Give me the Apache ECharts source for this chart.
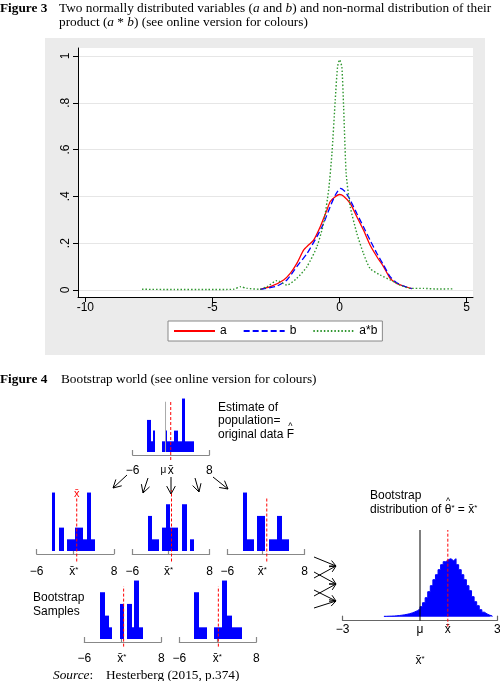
<!DOCTYPE html>
<html>
<head>
<meta charset="utf-8">
<script src="https://cdn.jsdelivr.net/npm/echarts@6/dist/echarts.min.js"></script>
<style>
  html, body { margin: 0; padding: 0; background: #fff; }
  #chart { width: 500px; height: 681px; }
</style>
</head>
<body>
<div id="chart"></div>
<script>
// ---- Figure 3: kernel densities, [x, density]
const densityA = [[-3.12,0.003],[-2.72,0.014],[-2.2,0.043],[-1.94,0.071],[-1.68,0.114],[-1.41,0.171],[-1.22,0.192],
  [-1.02,0.213],[-0.76,0.27],[-0.5,0.341],[-0.37,0.377],[-0.17,0.398],[0,0.408],[0.16,0.401],[0.42,0.37],[0.68,0.313],
  [0.94,0.256],[1.2,0.192],[1.47,0.142],[1.73,0.1],[1.99,0.05],[2.25,0.028],[2.51,0.017],[2.84,0.006]];
const densityB = [[-3.12,0.003],[-2.46,0.017],[-2.07,0.043],[-1.68,0.1],[-1.28,0.156],[-0.89,0.228],[-0.63,0.284],
  [-0.37,0.356],[-0.17,0.405],[0.03,0.434],[0.22,0.42],[0.42,0.384],[0.68,0.327],[0.94,0.27],[1.2,0.213],[1.47,0.156],
  [1.73,0.107],[1.99,0.057],[2.25,0.031],[2.58,0.014],[2.84,0.006]];
const densityAB = [[-7.77,0.003],[-6.5,0.002],[-5.2,0.002],[-4.16,0.003],[-3.9,0.014],[-3.64,0.007],[-3.12,0.003],
  [-2.86,0.014],[-2.46,0.04],[-2.07,0.021],[-1.68,0.05],[-1.28,0.1],[-0.89,0.185],[-0.63,0.284],[-0.43,0.427],
  [-0.3,0.583],[-0.17,0.811],[-0.08,0.953],[0,0.984],[0.09,0.953],[0.16,0.782],[0.26,0.498],[0.42,0.356],[0.68,0.242],
  [0.94,0.156],[1.2,0.092],[1.6,0.064],[1.99,0.043],[2.38,0.021],[2.78,0.007],[3.3,0.007],[3.82,0.004],[4.48,0.005]];
const fig3Names = ['a', 'b', 'a*b'];
const fig3XTicks = [-10, -5, 0, 5];
const fig3YTicks = [0, 0.2, 0.4, 0.6, 0.8, 1];

// ---- Figure 4: histograms, [binStart, binEnd, count]
const originalBins = [[-3.32,-2.71,3],[-2.71,-2.22,1],[-2.22,-1.91,2],[-0.57,-0.09,1],[-0.09,0.34,2],
  [0.34,1.56,1],[1.56,2.35,2],[2.35,2.96,1],[2.96,3.57,5],[3.57,5.22,1]];
const bootBins1 = [[-3.21,-2.61,5],[-1.88,-1.09,2],[-0.55,0.85,1],[0.85,2.36,2],[2.36,3.09,1],[3.09,3.88,5],[3.88,4.48,1]];
const bootBins2 = [[-3.21,-2.48,3],[-2.48,-1.09,1],[-0.55,0.18,2],[0.18,0.85,4],[0.85,2.36,2],[3.09,3.82,4],[4.48,5.09,1]];
const bootBins3 = [[-3.21,-2.48,5],[-2.48,-1.09,1],[-0.67,0.85,3],[1.58,3.09,1],[3.09,3.88,3],[3.88,5.21,1]];
const bootBins4 = [[-3.1,-2.2,4],[-2.2,-1.6,2],[-1.6,-1.0,1],[0.42,1.15,3],[1.76,2.67,3],[2.67,3.1,1],[3.1,3.9,5],[3.9,4.67,1]];
const bootBins5 = [[-3.27,-2.36,4],[-2.36,-1.03,1],[0.36,1.7,1],[1.7,2.61,5],[2.61,3.52,2],[3.52,5.33,1]];
const bootTickAt = [0.7, 0.55, 0.35, 0.8, 0.9];
const bootMeans = [1.25, 1.1, 1.15, 1.15, 1.1];
const popMu = 0;
const sampleMean = 0.95;
const topLabelAt = [-6, -0.4, 0.95, 8];

// bootstrap distribution of the mean, bins of 0.1 from -1.4
const distStart = -1.4;
const distWidth = 0.1;
const distCounts = [0.4,0.5,0.6,0.7,0.9,1.2,1.5,1.9,2.4,3.0,3.8,4.8,6.0,7.8,10,14,19,25,31,37,42,47,52,55,57,58,
  56,58,52,47,42,37,31,26,20,15,11,7,4.5,2.8,1.6,0.8];
const distMu = 0;
const distXbar = 1.08;

const SANS = "'Liberation Sans', Arial, sans-serif";
const SERIF = "'Liberation Serif', 'Times New Roman', serif";
const CAP = '13.3px ' + SERIF;

// step outline of the bootstrap distribution: bin starts, then close at the last bin end
const distSteps = distCounts.map((c, i) => [distStart + i * distWidth, c]);
distSteps.push([distStart + distCounts.length * distWidth, 0]);

// snap bin edges to whole pixels so touching bins show no seams
function renderBin(params, api) {
  const top = api.coord([api.value(0), api.value(2)]);
  const bottom = api.coord([api.value(1), 0]);
  const x0 = Math.round(top[0]);
  const x1 = Math.max(Math.round(bottom[0]), x0 + 1);
  return {
    type: 'rect',
    shape: { x: x0, y: top[1], width: x1 - x0, height: bottom[1] - top[1] },
    style: { fill: '#0000ff' }
  };
}

const xbarRich = {
  o: { fontSize: 12, fontFamily: SANS, color: '#000' },
  m: { fontSize: 10, fontFamily: SANS, color: '#000', lineHeight: 10, verticalAlign: 'top' },
  s: { fontSize: 8, lineHeight: 8, verticalAlign: 'top', fontFamily: SANS, color: '#000' }
};

function smallX(gi, ticks, labels, formatter, margin) {
  return {
    gridIndex: gi, type: 'value', min: -6, max: 8, offset: 3,
    axisLine: { show: true, onZero: false, lineStyle: { color: '#888', width: 1.2 } },
    axisTick: { show: true, inside: true, length: 5, customValues: ticks, lineStyle: { color: '#888', width: 1.2 } },
    axisLabel: { show: true, customValues: labels, formatter, margin, color: '#000', fontSize: 12, fontFamily: SANS, rich: xbarRich },
    splitLine: { show: false }
  };
}
function smallY(gi, max) {
  return { gridIndex: gi, type: 'value', min: 0, max, show: false };
}
function bins(gi, data) {
  return { type: 'custom', xAxisIndex: gi, yAxisIndex: gi, renderItem: renderBin, encode: { x: [0, 1], y: 2 }, data, silent: true };
}
function vline(gi, x, y0, y1, color, type) {
  return {
    type: 'line', xAxisIndex: gi, yAxisIndex: gi, data: [[x, y0], [x, y1]], symbol: 'none', clip: false, silent: true,
    lineStyle: { color, width: 1, type }, z: 5
  };
}

const bootFormatter = v => v === -6 ? '−6' : v === 8 ? '8' : '{o|x\u0304}{s|*}';
const topFormatter = v => v === -6 ? '−6' : v === 8 ? '8' : (v < 0.5 ? '{m|μ}' : 'x\u0304');

const measureCtx = document.createElement('canvas').getContext('2d');
function textWidth(s, font) { measureCtx.font = font; return measureCtx.measureText(s).width; }

function txt(x, y, text, font, extra) {
  return { type: 'text', x, y, style: Object.assign({ text, font, fill: '#000', verticalAlign: 'middle' }, extra || {}) };
}
// a hat drawn above the glyph that follows `prefix` in a text starting at x
function hat(x, y, prefix, glyph, font) {
  const cx = x + textWidth(prefix, font) + textWidth(glyph, font) / 2;
  return txt(cx, y, '^', '9px ' + SANS, { align: 'center' });
}
function arrow(a, h) {
  const [x1, y1, x2, y2] = a;
  const ang = Math.atan2(y2 - y1, x2 - x1);
  const sp = 0.5;
  const p1 = [x2 - h * Math.cos(ang - sp), y2 - h * Math.sin(ang - sp)];
  const p2 = [x2 - h * Math.cos(ang + sp), y2 - h * Math.sin(ang + sp)];
  return [
    { type: 'line', shape: { x1, y1, x2, y2 }, style: { stroke: '#000', lineWidth: 1 } },
    { type: 'polyline', shape: { points: [p1, [x2, y2], p2] }, style: { stroke: '#000', fill: null, lineWidth: 1 } }
  ];
}

const topArrows = [[127,475,113,488],[148,478,143,493],[171,477,171,494],[195,478,199,492],[213,477,228,489]];
const sideArrows = [[314,557,336,566],[314,578,336,566],[314,572,336,584],[314,596,336,584],[314,590,336,601],[314,608,336,601]];

const serifRich = { i: { font: 'italic ' + CAP, fill: '#000' } };
const F12 = '12px ' + SANS;

const graphic = [
  { type: 'rect', z: -100, shape: { x: 45, y: 38, width: 440, height: 317 }, style: { fill: '#ebebeb' } },
  { type: 'rect', z: -90, shape: { x: 78, y: 48, width: 395, height: 249 }, style: { fill: '#fff' } },
  txt(0, 9, 'Figure 3', 'bold ' + CAP),
  txt(59, 9, 'Two normally distributed variables ({i|a} and {i|b}) and non-normal distribution of their', CAP, { rich: serifRich }),
  txt(59, 23, 'product ({i|a} * {i|b}) (see online version for colours)', CAP, { rich: serifRich }),
  txt(0, 380, 'Figure 4', 'bold ' + CAP),
  txt(61, 380, 'Bootstrap world (see online version for colours)', CAP),
  txt(218, 408, 'Estimate of', F12),
  txt(218, 421, 'population=', F12),
  txt(218, 435, 'original data F', F12),
  hat(218, 427, 'original data ', 'F', F12),
  txt(33, 598, 'Bootstrap', F12),
  txt(33, 612, 'Samples', F12),
  txt(370, 496, 'Bootstrap', F12),
  txt(370, 510, 'distribution of θ{s|*} = x\u0304{s|*}', F12, {
    rich: { s: { font: '8px ' + SANS, lineHeight: 8, verticalAlign: 'top' } }
  }),
  hat(370, 502, 'distribution of ', 'θ', F12),
  txt(76.7, 494, 'x\u0304', '11px ' + SANS, { fill: '#ff0000', align: 'center' }),
  txt(53, 676, '{i|Source}:', CAP, { rich: serifRich }),
  txt(106, 676, 'Hesterberg (2015, p.374)', CAP)
];
topArrows.forEach(a => graphic.push(...arrow(a, 9)));
sideArrows.forEach(a => graphic.push(...arrow(a, 7)));

const grid = [
  { left: 78, top: 48, width: 395, height: 249 },
  { left: 132.7, top: 396.4, width: 76.6, height: 55.6 },
  { left: 36.7, top: 490.2, width: 77.3, height: 60.8 },
  { left: 132.3, top: 490.2, width: 77.3, height: 60.8 },
  { left: 227.3, top: 490.2, width: 77.3, height: 60.8 },
  { left: 84.3, top: 578.2, width: 77, height: 60.8 },
  { left: 179.3, top: 578.2, width: 77, height: 60.8 },
  { left: 342.7, top: 530, width: 154.6, height: 86.7 }
].map(g => Object.assign({ outerBoundsMode: 'none', containLabel: false, show: false }, g));

const xAxis = [
  {
    gridIndex: 0, type: 'value', min: -10.29, max: 5.25,
    axisLine: { show: true, onZero: false, lineStyle: { color: '#000', width: 1 } },
    axisTick: { show: true, length: 5, customValues: fig3XTicks, lineStyle: { color: '#000' } },
    axisLabel: { customValues: fig3XTicks, color: '#000', fontSize: 12, fontFamily: SANS, margin: 5 },
    splitLine: { show: false }
  },
  smallX(1, [-6, 8], topLabelAt, topFormatter, 10),
  smallX(2, [-6, bootTickAt[0], 8], [-6, bootTickAt[0], 8], bootFormatter, 12),
  smallX(3, [-6, bootTickAt[1], 8], [-6, bootTickAt[1], 8], bootFormatter, 12),
  smallX(4, [-6, bootTickAt[2], 8], [-6, bootTickAt[2], 8], bootFormatter, 12),
  smallX(5, [-6, bootTickAt[3], 8], [-6, bootTickAt[3], 8], bootFormatter, 11),
  smallX(6, [-6, bootTickAt[4], 8], [-6, bootTickAt[4], 8], bootFormatter, 11),
  {
    gridIndex: 7, type: 'value', min: -3, max: 3, offset: 4,
    axisLine: { show: true, onZero: false, lineStyle: { color: '#666', width: 1.2 } },
    axisTick: { show: true, inside: true, length: 5, customValues: [-3, 3], lineStyle: { color: '#666', width: 1.2 } },
    axisLabel: {
      customValues: [-3, distMu, distXbar, 3], margin: 3, color: '#000', fontSize: 12, fontFamily: SANS,
      formatter: v => v === -3 ? '−3' : v === 3 ? '3' : v === distMu ? 'μ' : 'x\u0304'
    },
    name: '{o|x\u0304}{s|*}', nameLocation: 'middle', nameGap: 34,
    nameTextStyle: { rich: xbarRich },
    splitLine: { show: false }
  }
];

const yAxis = [
  {
    gridIndex: 0, type: 'value', min: -0.03, max: 1.034,
    axisLine: { show: true, onZero: false, lineStyle: { color: '#000', width: 1 } },
    axisTick: { show: true, length: 5, customValues: fig3YTicks, lineStyle: { color: '#000' } },
    axisLabel: {
      customValues: fig3YTicks, rotate: 90, margin: 6, color: '#000', fontSize: 12, fontFamily: SANS,
      formatter: v => v === 0 ? '0' : v === 1 ? '1' : String(v).replace(/^0/, '')
    },
    splitLine: { show: true, lineStyle: { color: '#e6e6e6', width: 1 } }
  },
  smallY(1, 5.2), smallY(2, 5.2), smallY(3, 5.2), smallY(4, 5.2), smallY(5, 5.2), smallY(6, 5.2),
  smallY(7, 86.7)
];

const series = [
  { name: 'a', type: 'line', data: densityA, smooth: 0.2, symbol: 'none', color: '#ff0000', lineStyle: { width: 1.3, type: 'solid' } },
  { name: 'b', type: 'line', data: densityB, smooth: 0.2, symbol: 'none', color: '#0000ff', lineStyle: { width: 1.3, type: [6, 3] } },
  { name: 'a*b', type: 'line', data: densityAB, smooth: 0.2, symbol: 'none', color: '#2e962e', lineStyle: { width: 1.4, type: [1.5, 2] } },

  bins(1, originalBins),
  vline(1, popMu, 0, 4.7, '#aaaaaa', 'solid'),
  vline(1, sampleMean, -0.75, 4.7, '#ff0000', [3, 2]),

  bins(2, bootBins1), vline(2, bootMeans[0], -0.9, 4.5, '#ff0000', [3, 2]),
  bins(3, bootBins2), vline(3, bootMeans[1], -0.9, 5.2, '#ff0000', [3, 2]),
  bins(4, bootBins3), vline(4, bootMeans[2], -0.9, 4.5, '#ff0000', [3, 2]),
  bins(5, bootBins4), vline(5, bootMeans[3], -0.65, 4.5, '#ff0000', [3, 2]),
  bins(6, bootBins5), vline(6, bootMeans[4], -0.65, 4.5, '#ff0000', [3, 2]),

  {
    type: 'line', xAxisIndex: 7, yAxisIndex: 7, data: distSteps, step: 'end', symbol: 'none', silent: true,
    lineStyle: { color: '#0000ff', width: 1 }, areaStyle: { color: '#0000ff', opacity: 1 }
  },
  vline(7, distMu, -4, 86.7, '#000000', 'solid'),
  vline(7, distXbar, -10, 86.7, '#ff0000', [3, 2])
];

const chart = echarts.init(document.getElementById('chart'), null, { renderer: 'canvas' });
chart.setOption({
  animation: false,
  backgroundColor: '#fff',
  textStyle: { fontFamily: SANS },
  grid, xAxis, yAxis, series, graphic,
  legend: {
    data: fig3Names, left: 168, top: 321, orient: 'horizontal', selectedMode: false,
    itemWidth: 41, itemHeight: 10, itemGap: 16, padding: [4, 5, 4, 5],
    itemStyle: { opacity: 0 },
    backgroundColor: '#fff', borderColor: '#888', borderWidth: 1, borderRadius: 0,
    textStyle: { fontSize: 12, fontFamily: SANS, color: '#000' }
  }
});
</script>
</body>
</html>
